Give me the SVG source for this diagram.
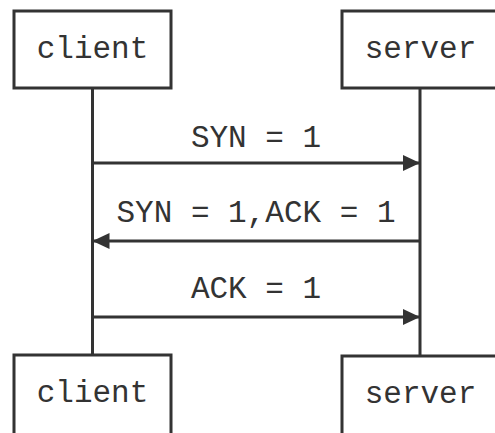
<svg xmlns="http://www.w3.org/2000/svg" width="495" height="433" viewBox="0 0 495 433">
<style>
.box{fill:#fff;stroke:#333;stroke-width:3}
.life{stroke:#333;stroke-width:3;fill:none}
.msg{stroke:#333;stroke-width:3;fill:none}
text{font-family:"Courier New","Liberation Mono",monospace;font-size:31px;fill:#333;text-anchor:middle}
</style>
<defs>
<marker id="ah" markerWidth="17" markerHeight="16" refX="17" refY="8" orient="auto" markerUnits="userSpaceOnUse">
<path d="M0,0 L17,8 L0,16 Z" fill="#333"/>
</marker>
</defs>
<g id="connectors">
<line class="life" x1="92.5" y1="88" x2="92.5" y2="355"/>
<line class="life" x1="420" y1="88" x2="420" y2="356"/>
<line class="msg" x1="92.5" y1="163" x2="420" y2="163" marker-end="url(#ah)"/>
<line class="msg" x1="420" y1="241" x2="92.5" y2="241" marker-end="url(#ah)"/>
<line class="msg" x1="92.5" y1="317" x2="420" y2="317" marker-end="url(#ah)"/>
<text x="256" y="147">SYN = 1</text>
<text x="256" y="222">SYN = 1,ACK = 1</text>
<text x="256" y="298">ACK = 1</text>
</g>
<g id="client-top">
<rect class="box" x="14" y="11" width="157" height="77"/>
<text x="92.5" y="58">client</text>
</g>
<g id="server-top">
<rect class="box" x="342" y="11" width="157" height="77"/>
<text x="420.5" y="58">server</text>
</g>
<g id="client-bottom">
<rect class="box" x="14" y="355" width="157" height="82"/>
<text x="92.5" y="402">client</text>
</g>
<g id="server-bottom">
<rect class="box" x="342" y="356" width="157" height="82"/>
<text x="420.5" y="403">server</text>
</g>
</svg>
